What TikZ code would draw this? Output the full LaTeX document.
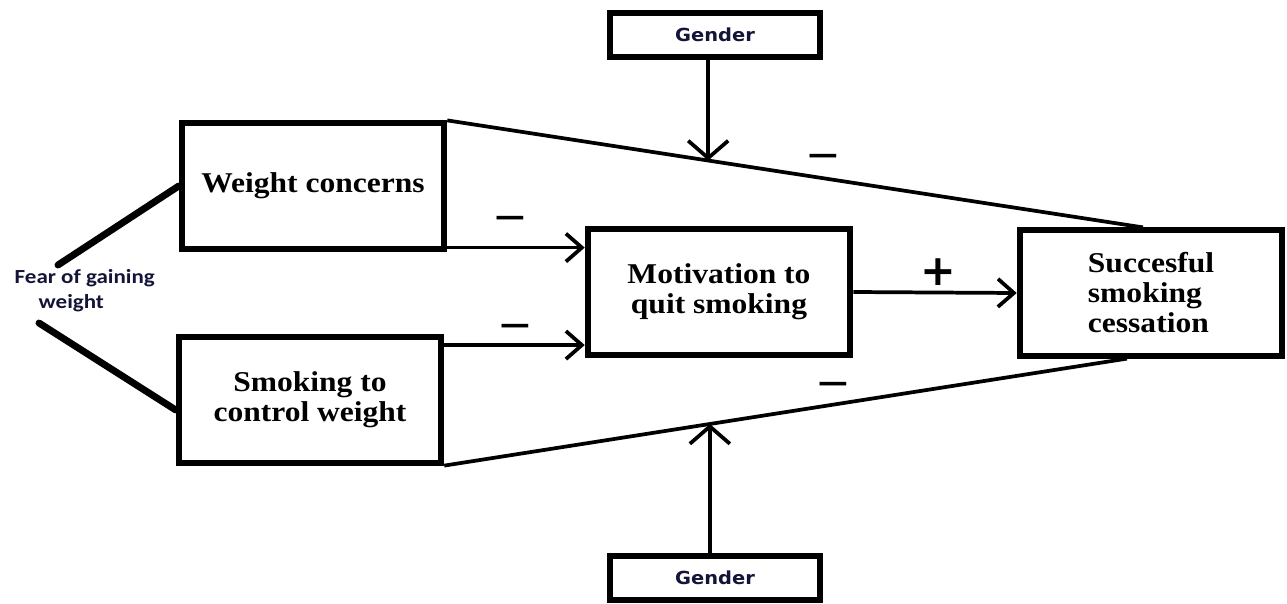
\documentclass[tikz,border=0pt]{standalone}
\usepackage{fontspec}
\setmainfont{Liberation Serif}[FakeStretch=1.1]
\newfontfamily\gendfont{DejaVu Sans}[FakeStretch=1.08]
\newfontfamily\fearfont{Carlito}[FakeStretch=1.15]
\newfontfamily\signfont{DejaVu Sans}
\usetikzlibrary{arrows.meta}
\definecolor{navy}{rgb}{0.08,0.08,0.22}

\tikzset{
  box/.style={draw, line width=4.4pt, minimum width=197pt, minimum height=94pt,
    inner sep=0pt, align=center, font=\fontsize{21.5}{22.5}\selectfont\bfseries},
  gendbox/.style={draw, line width=4.6pt, minimum width=157pt, minimum height=33pt,
    inner sep=0pt, text=navy, font=\gendfont\fontsize{13.5}{14}\selectfont\bfseries},
  link/.style={line width=2.8pt},
  arr/.style={line width=2.8pt, -{Straight Barb[length=12pt,width=21pt]}},
  garr/.style={line width=2.8pt, -{Straight Barb[length=13pt,width=30pt]}},
  sign/.style={inner sep=0pt, font=\signfont\fontsize{32}{32}\selectfont},
  fearline/.style={line width=5.2pt, line cap=round},
}

\begin{document}
\begin{tikzpicture}[x=0.75pt, y=-0.75pt]
    \useasboundingbox (0,0) rectangle (1287,603);

    % Cajas
    \node[box] (wc) at (313,186) {Weight concerns};
    \node[box] (sm) at (310,400) {Smoking to\\control weight};
    \node[box] (mq) at (719,292) {Motivation to\\quit smoking};
    \node[box, align=left] (sc) at (1151,293) {Succesful\\smoking\\cessation};
    \node[gendbox] (g1) at (715,35) {Gender};
    \node[gendbox] (g2) at (715,578) {Gender};

    % Miedo a engordar
    \node[anchor=west, align=left, text=navy, font=\fearfont\fontsize{15}{18.5}\selectfont\bfseries]
        (fear) at (10,291) {Fear of gaining\\\hspace*{18pt}weight};
    \coordinate (f1) at (58,265);
    \coordinate (f2) at (39,323);
    \draw[fearline] (f1) -- (wc.west);
    \draw[fearline] (f2) -- ([yshift=-7.5pt]sm.west);

    % Efectos directos
    \draw[link] (wc.north east) -- coordinate[pos=0.375] (m1) ([xshift=-6pt]sc.north);
    \draw[link] (sm.south east) -- coordinate[pos=0.389] (m2) ([xshift=-18pt]sc.south);
    \draw[garr] (g1.south -| m1) -- (m1);
    \draw[garr] (g2.north -| m2) -- (m2);

    \coordinate (a1) at ([yshift=3pt]wc.south east);
    \coordinate (a2) at ([yshift=-8pt]sm.north east);
    \draw[arr] (a1) -- (a1 -| mq.west);
    \draw[arr] (a2) -- (a2 -| mq.west);
    \draw[arr] (mq.east) -- (sc.west);

    % Signos
    \node[sign] (s1) at (510,224) {−};
    \node[sign] (s2) at (515,332) {−};
    \node[sign] (s3) at (823,162) {−};
    \node[sign] (s4) at (833,390) {−};
    \node[sign, font=\signfont\fontsize{32}{32}\selectfont\bfseries] (s5) at (938,272) {+};
\end{tikzpicture}
\end{document}
